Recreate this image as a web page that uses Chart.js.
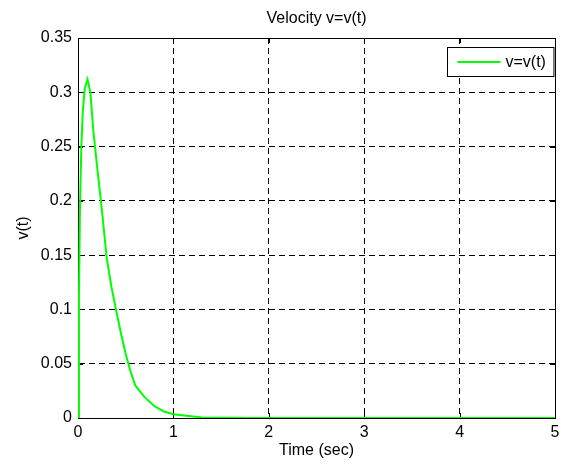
<!DOCTYPE html>
<html>
<head>
<meta charset="utf-8">
<title>Velocity v=v(t)</title>
<script src="https://cdn.jsdelivr.net/npm/chart.js@4.4.0/dist/chart.umd.min.js"></script>
<style>
  html, body { margin: 0; padding: 0; background: #fff; }
  #wrap { width: 567px; height: 464px; }
</style>
</head>
<body>
<div id="wrap"><canvas id="vel"></canvas></div>
<script>
// Datos (tiempo en s, velocidad)
const tiempo = [0, 0.01, 0.02, 0.035, 0.05, 0.07, 0.1, 0.13, 0.16, 0.2, 0.25, 0.3, 0.35, 0.4, 0.45, 0.5, 0.55, 0.6, 0.7, 0.8, 0.9, 1.0, 1.3, 1.8, 2.4, 3.0, 3.6, 4.2, 4.8, 5.0];
const velocidad = [0, 0.11, 0.19, 0.25, 0.282, 0.303, 0.312, 0.3, 0.265, 0.232, 0.192, 0.148, 0.121, 0.099, 0.078, 0.059, 0.043, 0.03, 0.019, 0.011, 0.006, 0.0035, 0.0004, 0, 0, 0, 0, 0, 0, 0];

const xTicks = [0, 1, 2, 3, 4, 5];
const yTicks = [0, 0.05, 0.1, 0.15, 0.2, 0.25, 0.3, 0.35];
const yTickLabels = ["0", "0.05", "0.1", "0.15", "0.2", "0.25", "0.3", "0.35"];

const fuente = "Arial, 'Liberation Sans', Helvetica, sans-serif";
const tam = 16;

// caja estilo matlab + marcas hacia adentro
const cajaPlugin = {
  id: "caja",
  beforeDatasetsDraw(chart) {
    const { ctx, chartArea: a, scales } = chart;
    ctx.save();
    ctx.strokeStyle = "#000";
    ctx.lineWidth = 1;
    ctx.beginPath();
    xTicks.forEach((t) => {
      const px = Math.round(scales.x.getPixelForValue(t)) + 0.5;
      ctx.moveTo(px, a.bottom); ctx.lineTo(px, a.bottom - 5);
      ctx.moveTo(px, a.top); ctx.lineTo(px, a.top + 5);
    });
    yTicks.forEach((v) => {
      const py = Math.round(scales.y.getPixelForValue(v)) + 0.5;
      ctx.moveTo(a.left, py); ctx.lineTo(a.left + 5, py);
      ctx.moveTo(a.right, py); ctx.lineTo(a.right - 5, py);
    });
    ctx.stroke();
    ctx.strokeRect(Math.round(a.left) + 0.5, Math.round(a.top) + 0.5,
      Math.round(a.right - a.left), Math.round(a.bottom - a.top));
    ctx.restore();
  },
  afterDraw(chart) {
    // leyenda con recuadro
    const { ctx, chartArea: a } = chart;
    const ds = chart.data.datasets[0];
    ctx.save();
    ctx.font = tam + "px " + fuente;
    const tw = ctx.measureText(ds.label).width;
    const w = 10 + 43 + 5 + tw + 8;
    const h = 29;
    const x = Math.round(a.right - 2 - w) + 0.5;
    const y = Math.round(a.top + 9) + 0.5;
    ctx.fillStyle = "#fff";
    ctx.fillRect(x, y, w, h);
    ctx.strokeStyle = "#000";
    ctx.lineWidth = 1;
    ctx.strokeRect(x, y, w, h);
    ctx.strokeStyle = ds.borderColor;
    ctx.lineWidth = 2;
    ctx.beginPath();
    ctx.moveTo(x + 10, y + h / 2);
    ctx.lineTo(x + 53, y + h / 2);
    ctx.stroke();
    ctx.fillStyle = "#000";
    ctx.textBaseline = "middle";
    ctx.fillText(ds.label, x + 58, y + h / 2 + 1);
    ctx.restore();
  },
};

let ctx1 = document.getElementById("vel").getContext("2d");
let graf = new Chart(ctx1, {
  type: "scatter",
  data: {
    datasets: [
      {
        label: "v=v(t)",
        data: tiempo.map((t, i) => ({ x: t, y: velocidad[i] })),
        showLine: true,
        borderWidth: 2,
        borderColor: "rgb(0,255,0)",
        backgroundColor: "rgb(0,255,0)",
        pointRadius: 0,
        tension: 0,
      },
    ],
  },
  options: {
    responsive: true,
    maintainAspectRatio: false,
    animation: false,
    layout: { padding: { left: 0, right: 12, top: 0, bottom: 0 } },
    plugins: {
      legend: { display: false },
      tooltip: { enabled: false },
      title: {
        display: true,
        fullSize: false,
        text: "Velocity v=v(t)",
        color: "#000",
        font: { family: fuente, size: tam, weight: "normal" },
        padding: { top: 9, bottom: 9.8 },
      },
    },
    scales: {
      x: {
        type: "linear",
        min: 0,
        max: 5,
        afterFit: (s) => { s.height = 46; },
        afterBuildTicks: (s) => { s.ticks = xTicks.map((v) => ({ value: v })); },
        ticks: {
          color: "#000",
          font: { family: fuente, size: tam },
          padding: 5,
          maxRotation: 0,
          callback: (v) => String(v),
        },
        grid: { color: "#000", lineWidth: 1, drawTicks: false },
        border: { display: true, color: "#000", dash: [6, 4] },
        title: {
          display: true,
          text: "Time (sec)",
          color: "#000",
          font: { family: fuente, size: tam },
          padding: { top: 0, bottom: 4 },
        },
      },
      y: {
        type: "linear",
        min: 0,
        max: 0.35,
        afterFit: (s) => { s.width = 78; },
        afterBuildTicks: (s) => { s.ticks = yTicks.map((v) => ({ value: v })); },
        ticks: {
          color: "#000",
          font: { family: fuente, size: tam },
          padding: 6,
          callback: (v, i) => yTickLabels[i],
        },
        grid: { color: "#000", lineWidth: 1, drawTicks: false },
        border: { display: true, color: "#000", dash: [6, 4] },
        title: {
          display: true,
          text: "v(t)",
          color: "#000",
          font: { family: fuente, size: tam },
          padding: { top: 14, bottom: 0 },
        },
      },
    },
  },
  plugins: [cajaPlugin],
});
</script>
</body>
</html>
